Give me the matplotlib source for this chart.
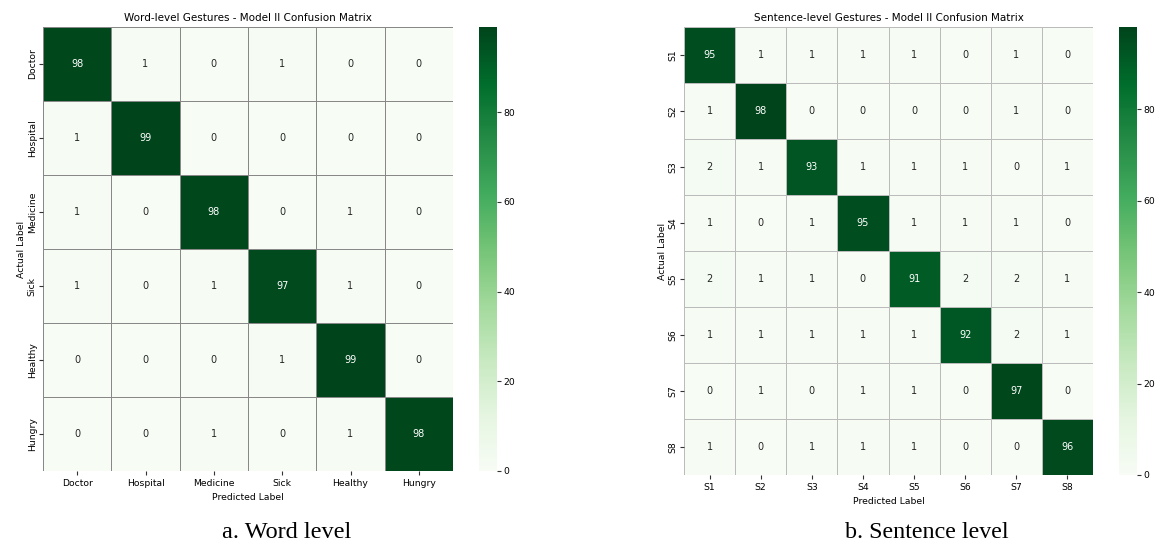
import numpy as np
import matplotlib
matplotlib.use("Agg")
import matplotlib.pyplot as plt
import seaborn as sns

word_labels = ["Doctor", "Hospital", "Medicine", "Sick", "Healthy", "Hungry"]
word_cm = [
    [98, 1, 0, 1, 0, 0],
    [1, 99, 0, 0, 0, 0],
    [1, 0, 98, 0, 1, 0],
    [1, 0, 1, 97, 1, 0],
    [0, 0, 0, 1, 99, 0],
    [0, 0, 1, 0, 1, 98],
]
sent_labels = ["S1", "S2", "S3", "S4", "S5", "S6", "S7", "S8"]
sent_cm = [
    [95, 1, 1, 1, 1, 0, 1, 0],
    [1, 98, 0, 0, 0, 0, 1, 0],
    [2, 1, 93, 1, 1, 1, 0, 1],
    [1, 0, 1, 95, 1, 1, 1, 0],
    [2, 1, 1, 0, 91, 2, 2, 1],
    [1, 1, 1, 1, 1, 92, 2, 1],
    [0, 1, 0, 1, 1, 0, 97, 0],
    [1, 0, 1, 1, 1, 0, 0, 96],
]

W, H = 1159, 544
fig = plt.figure(figsize=(W / 100, H / 100), dpi=100)

def rect(x0, y0, x1, y1):
    return [x0 / W, (H - y1) / H, (x1 - x0) / W, (y1 - y0) / H]

def draw(ax, cax, cm, labels, title, lcolor):
    sns.heatmap(np.array(cm), annot=True, fmt="d", cmap="Greens", ax=ax, cbar_ax=cax,
                linewidths=0.6, linecolor=lcolor, annot_kws={"fontsize": 7},
                xticklabels=labels, yticklabels=labels)
    ax.set_title(title, fontsize=7.5, pad=4)
    ax.set_xlabel("Predicted Label", fontsize=6.7, labelpad=3.5)
    ax.set_ylabel("Actual Label", fontsize=6.7, labelpad=1)
    ax.tick_params(axis="y", labelsize=6.7, length=3, pad=1.5, color="#333333")
    ax.tick_params(axis="x", labelsize=6.7, length=3, pad=3, color="#333333")
    plt.setp(ax.get_yticklabels(), rotation=90, va="center")
    plt.setp(ax.get_xticklabels(), rotation=0)
    cax.tick_params(labelsize=6.7, length=3, pad=1.5, color="#333333")

ax1 = fig.add_axes(rect(43, 27, 453, 471))
cax1 = fig.add_axes(rect(479, 27, 497, 471))
draw(ax1, cax1, word_cm, word_labels, "Word-level Gestures - Model II Confusion Matrix", "#888888")

ax2 = fig.add_axes(rect(684, 27, 1093, 475))
cax2 = fig.add_axes(rect(1119, 27, 1137, 475))
draw(ax2, cax2, sent_cm, sent_labels, "Sentence-level Gestures - Model II Confusion Matrix", "#bbbbbb")

fig.text(287 / W, 1 - 532 / H, "a. Word level", family="Liberation Serif", fontsize=17.5,
         ha="center", va="center")
fig.text(927 / W, 1 - 532 / H, "b. Sentence level", family="Liberation Serif", fontsize=17.3,
         ha="center", va="center")

fig.savefig("out.png", dpi=100)
